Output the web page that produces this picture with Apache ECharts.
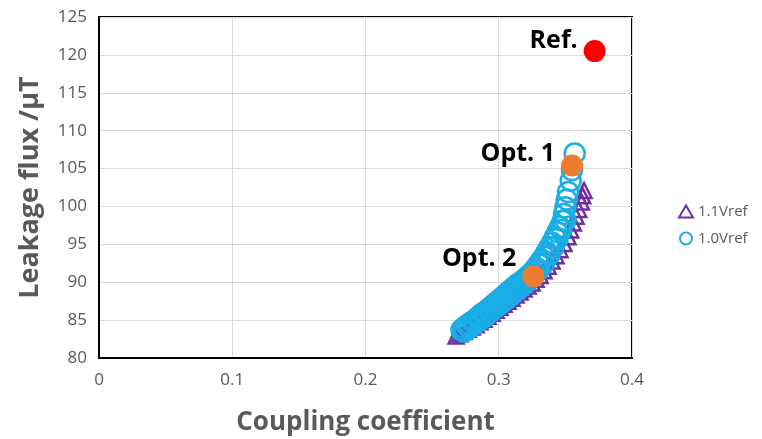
<!DOCTYPE html>
<html>
<head>
<meta charset="utf-8">
<script src="https://cdn.jsdelivr.net/npm/echarts@6/dist/echarts.min.js"></script>
<style>
  html, body { margin: 0; padding: 0; background: #fff; }
  #main { width: 762px; height: 439px; }
</style>
</head>
<body>
<div id="main"></div>
<script>
// values
const xTicks = [0, 0.1, 0.2, 0.3, 0.4]
const yTicks = [80, 85, 90, 95, 100, 105, 110, 115, 120, 125]

const v11 = [
  [0.268, 82.9], [0.271, 83.2], [0.274, 83.5], [0.277, 83.8], [0.280, 84.1], [0.283, 84.4],
  [0.286, 84.8], [0.289, 85.1], [0.292, 85.5], [0.295, 85.9], [0.298, 86.3], [0.301, 86.7],
  [0.304, 87.1], [0.307, 87.5], [0.310, 87.9], [0.313, 88.3], [0.316, 88.7], [0.319, 89.1],
  [0.322, 89.5], [0.325, 89.9], [0.328, 90.4], [0.331, 90.9], [0.334, 91.5], [0.337, 92.1],
  [0.340, 92.8], [0.343, 93.5], [0.346, 94.3], [0.349, 95.1], [0.352, 96.0], [0.354, 96.9],
  [0.356, 97.8], [0.358, 98.7], [0.360, 99.6], [0.362, 100.6], [0.363, 101.4], [0.364, 102.1]
]

const v10 = [
  [0.272, 83.7], [0.274, 84.0], [0.276, 84.3], [0.278, 84.5], [0.280, 84.8], [0.282, 85.0],
  [0.284, 85.3], [0.286, 85.6], [0.288, 85.9], [0.290, 86.1], [0.292, 86.4], [0.294, 86.7],
  [0.296, 87.0], [0.298, 87.3], [0.300, 87.6], [0.302, 87.9], [0.304, 88.2], [0.306, 88.5],
  [0.308, 88.8], [0.310, 89.1], [0.312, 89.4], [0.314, 89.7], [0.316, 89.9], [0.318, 90.2],
  [0.320, 90.5], [0.322, 90.8], [0.324, 91.1], [0.326, 91.5], [0.328, 91.9], [0.330, 92.4],
  [0.332, 92.9], [0.334, 93.4], [0.336, 94.0], [0.338, 94.6], [0.340, 95.2], [0.342, 95.9],
  [0.344, 96.6], [0.346, 97.3], [0.348, 98.1], [0.349, 99.0], [0.350, 99.9], [0.351, 100.9],
  [0.352, 101.9], [0.354, 103.4], [0.355, 104.8], [0.357, 107.0],
  [0.274, 83.5], [0.278, 84.0], [0.282, 84.5], [0.286, 85.0], [0.290, 85.5], [0.294, 86.1],
  [0.298, 86.7], [0.302, 87.3], [0.306, 87.8], [0.310, 88.4], [0.314, 89.0], [0.318, 89.6],
  [0.322, 90.2], [0.326, 90.8], [0.330, 91.6], [0.334, 92.5], [0.338, 93.6], [0.341, 94.6],
  [0.344, 95.7], [0.347, 96.9], [0.350, 98.2]
]

const refPoint = [0.372, 120.5]
const opt1 = [0.355, 105.4]
const opt2 = [0.326, 90.8]

const grayText = '#595959'
const font = 'Open Sans'

var myChart = echarts.init(document.getElementById('main'))

const pointLabel = (text, offset) => ({
  show: true, position: 'left', distance: 6, offset: offset,
  formatter: text, color: '#000', fontSize: 25, fontWeight: 'bold', fontFamily: font
})

myChart.setOption({
  animation: false,
  textStyle: { fontFamily: font },
  grid: {
    left: 99, right: 130, top: 17, bottom: 81,
    outerBoundsMode: 'none',
    show: true, borderColor: '#000', borderWidth: 2
  },
  legend: {
    orient: 'vertical',
    left: 673,
    top: 199,
    itemGap: 12,
    itemWidth: 14,
    itemHeight: 12,
    data: ['1.1Vref', '1.0Vref'],
    textStyle: { color: grayText, fontSize: 15, fontFamily: font }
  },
  xAxis: {
    type: 'value',
    min: 0, max: 0.4, interval: 0.1,
    name: 'Coupling coefficient',
    nameLocation: 'middle',
    nameGap: 52,
    nameTextStyle: { color: grayText, fontSize: 26, fontWeight: 'bold', fontFamily: font },
    axisLine: { show: true, lineStyle: { color: '#000', width: 2 } },
    axisTick: { show: false },
    axisLabel: {
      color: grayText, fontSize: 17, margin: 14,
      formatter: v => xTicks.includes(+v.toFixed(1)) ? String(+v.toFixed(1)) : ''
    },
    splitLine: { lineStyle: { color: '#D9D9D9', width: 1 } }
  },
  yAxis: {
    type: 'value',
    min: 80, max: 125, interval: 5,
    name: 'Leakage flux /μT',
    nameLocation: 'middle',
    nameGap: 55,
    nameTextStyle: { color: grayText, fontSize: 27, fontWeight: 'bold', fontFamily: font },
    axisLine: { show: true, lineStyle: { color: '#000', width: 2 } },
    axisTick: { show: false },
    axisLabel: {
      color: grayText, fontSize: 17, margin: 12,
      formatter: v => yTicks.includes(v) ? String(v) : ''
    },
    splitLine: { lineStyle: { color: '#D9D9D9', width: 1 } }
  },
  series: [
    {
      name: '1.1Vref',
      type: 'scatter',
      symbol: 'triangle',
      symbolSize: 15,
      data: v11,
      itemStyle: { color: 'rgba(0,0,0,0)', borderColor: '#7030A0', borderWidth: 2.5, opacity: 1 }
    },
    {
      name: '1.0Vref',
      type: 'scatter',
      symbol: 'circle',
      symbolSize: 20,
      data: v10,
      itemStyle: { color: 'rgba(0,0,0,0)', borderColor: '#1AAEE6', borderWidth: 2.5, opacity: 1 }
    },
    {
      name: 'Ref.',
      type: 'scatter',
      symbolSize: 22,
      data: [refPoint],
      itemStyle: { color: '#FF0000', opacity: 1 },
      label: pointLabel('Ref.', [0, -10])
    },
    {
      name: 'Opt. 1',
      type: 'scatter',
      symbolSize: 22,
      data: [opt1],
      itemStyle: { color: '#ED7D31', opacity: 1 },
      label: pointLabel('Opt. 1', [0, -12])
    },
    {
      name: 'Opt. 2',
      type: 'scatter',
      symbolSize: 22,
      data: [opt2],
      itemStyle: { color: '#ED7D31', opacity: 1 },
      label: pointLabel('Opt. 2', [0, -17])
    }
  ]
})
</script>
</body>
</html>
